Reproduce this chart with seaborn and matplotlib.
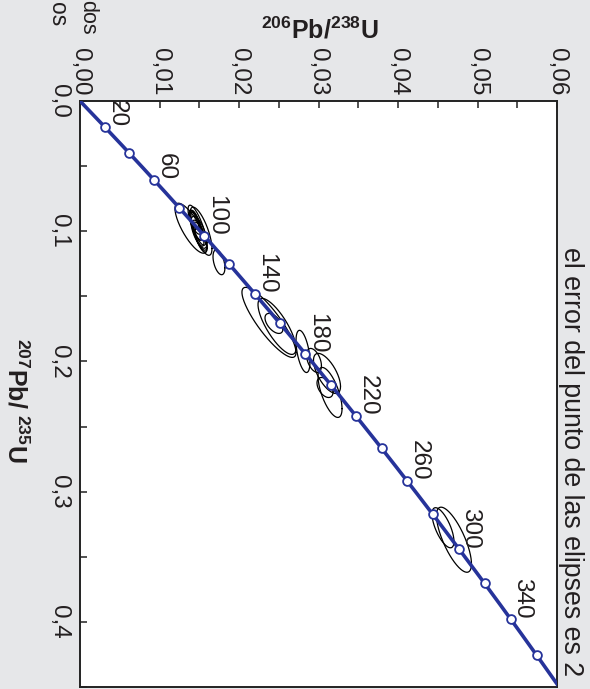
import numpy as np
import pandas as pd
import matplotlib
matplotlib.use("Agg")
import matplotlib.pyplot as plt
from matplotlib.ticker import FuncFormatter, MultipleLocator
import seaborn as sns

# ---------------- data ----------------
# decay constants (1/yr)
LAMBDA_238 = 1.55125e-10
LAMBDA_235 = 9.8485e-10

# concordia age marks (Ma) and labelled ages
marker_ages = [20, 40, 60, 80, 100, 120, 140, 160, 180, 200, 220, 240,
               260, 280, 300, 320, 340, 360]
label_ages = [20, 60, 100, 140, 180, 220, 260, 300, 340]

# analyses: 206Pb/238U, 2s; 207Pb/235U, 2s; error correlation
r68 = [0.01396, 0.01522, 0.01447, 0.01472, 0.01497, 0.01459, 0.01484,
       0.01509, 0.01434, 0.01472, 0.01522, 0.01748,
       0.02377, 0.02478, 0.02440, 0.02805, 0.02943, 0.03107, 0.03145,
       0.03082, 0.04566, 0.04704]
r68_err = [0.00201, 0.00138, 0.00075, 0.00088, 0.00101, 0.00063, 0.00075,
           0.00088, 0.00063, 0.00113, 0.00075, 0.00075,
           0.00340, 0.00239, 0.00113, 0.00088, 0.00094, 0.00170, 0.00151,
           0.00101, 0.00138, 0.00220]
r75 = [0.0977, 0.1000, 0.0931, 0.0977, 0.1008, 0.0962, 0.0992, 0.1038,
       0.0915, 0.0954, 0.1069, 0.1238,
       0.1700, 0.1731, 0.1708, 0.1923, 0.1992, 0.2092, 0.2238, 0.2200,
       0.3277, 0.3369]
r75_err = [0.0192, 0.0185, 0.0092, 0.0138, 0.0123, 0.0108, 0.0077, 0.0108,
           0.0069, 0.0154, 0.0092, 0.0096,
           0.0269, 0.0215, 0.0077, 0.0162, 0.0092, 0.0154, 0.0192, 0.0077,
           0.0154, 0.0250]
rho = [0.78, 0.72, 0.70, 0.75, 0.65, 0.80, 0.60, 0.70, 0.60, 0.78, 0.70,
       0.45, 0.86, 0.78, 0.55, 0.50, 0.45, 0.65, 0.65, 0.45, 0.68, 0.74]

x_ticks = [0.00, 0.01, 0.02, 0.03, 0.04, 0.05, 0.06]
y_ticks = [0.0, 0.1, 0.2, 0.3, 0.4]

x_label = r'$\mathbf{^{206}Pb/^{238}U}$'
y_label = r'$\mathbf{^{207}Pb/\ ^{235}U}$'
note_text = 'el error del punto de las elipses es 2'
cut_texts = ['os', 'dos']


def conc_68(t_ma):
    return np.exp(LAMBDA_238 * np.asarray(t_ma, float) * 1e6) - 1


def conc_75(t_ma):
    return np.exp(LAMBDA_235 * np.asarray(t_ma, float) * 1e6) - 1


# ---------------- style ----------------
sns.set_style("white")
plt.rcParams['font.family'] = ['Liberation Sans', 'DejaVu Sans']
plt.rcParams['mathtext.fontset'] = 'custom'
plt.rcParams['mathtext.rm'] = 'Liberation Sans'
plt.rcParams['mathtext.bf'] = 'Liberation Sans:bold'
plt.rcParams['mathtext.it'] = 'Liberation Sans:italic'

BG = '#e6e7e9'
BLUE = '#26339a'
TXT = '#231f20'

fig = plt.figure(figsize=(5.9, 6.89), dpi=100, facecolor=BG)
ax = fig.add_axes([80 / 590, 1 - 687 / 689, (557 - 80) / 590, (687 - 101) / 689])
ax.set_facecolor('white')

# concordia curve
t_curve = np.linspace(0, 400, 801)
curve = pd.DataFrame({'r68': conc_68(t_curve), 'r75': conc_75(t_curve)})
sns.lineplot(data=curve, x='r68', y='r75', sort=False, color=BLUE,
             linewidth=2.6, ax=ax, zorder=3)

# error ellipses
theta = np.linspace(0, 2 * np.pi, 200)
for cx, sx, cy, sy, r in zip(r68, r68_err, r75, r75_err, rho):
    ex = cx + sx * np.cos(theta)
    ey = cy + sy * (r * np.cos(theta) + np.sqrt(1 - r ** 2) * np.sin(theta))
    ax.plot(ex, ey, color='black', linewidth=0.9, zorder=2)

# age markers
marks = pd.DataFrame({'r68': conc_68(marker_ages), 'r75': conc_75(marker_ages)})
sns.scatterplot(data=marks, x='r68', y='r75', s=40, color='white',
                edgecolor=BLUE, linewidth=1.3, ax=ax, zorder=4)

for a in label_ages:
    ax.annotate(str(a), (float(conc_68(a)), float(conc_75(a))),
                xytext=(0.5, 0), textcoords='offset points',
                rotation=-90, ha='left', va='bottom', fontsize=17.5,
                color=TXT, zorder=5)

ax.set_xlim(0, 0.06)
ax.set_ylim(0.45, 0)
ax.set_xlabel('')
ax.set_ylabel('')

ax.xaxis.set_major_locator(MultipleLocator(0.01))
ax.xaxis.set_minor_locator(MultipleLocator(0.005))
ax.yaxis.set_major_locator(MultipleLocator(0.1))
ax.yaxis.set_minor_locator(MultipleLocator(0.05))
ax.set_xticks(x_ticks)
ax.set_yticks(y_ticks)
ax.xaxis.set_major_formatter(FuncFormatter(lambda v, p: f"{v:.2f}".replace('.', ',')))
ax.yaxis.set_major_formatter(FuncFormatter(lambda v, p: f"{v:.1f}".replace('.', ',')))

ax.tick_params(axis='x', which='both', direction='in', top=True, bottom=False,
               labeltop=True, labelbottom=False, length=5, width=1.1,
               color='#222222')
ax.tick_params(axis='x', which='major', labelsize=17.5, labelrotation=-90,
               pad=4, labelcolor=TXT)
ax.tick_params(axis='y', which='both', direction='in', left=True, right=False,
               length=5, width=1.1, color='#222222')
ax.tick_params(axis='y', which='major', labelsize=17.5, labelrotation=-90,
               pad=7, labelcolor=TXT)
for lab in ax.get_yticklabels():
    lab.set_va('center')

for sp in ax.spines.values():
    sp.set_visible(True)
    sp.set_color('#222222')
    sp.set_linewidth(1.4)

# axis titles and annotations
fig.text(320 / 590, 1 - 30 / 689, x_label, ha='center', va='center',
         fontsize=18, color=TXT)
fig.text(16 / 590, 1 - 400 / 689, y_label, ha='center', va='center',
         rotation=-90, fontsize=18, color=TXT)
fig.text(571 / 590, 1 - 462 / 689, note_text, ha='center', va='center',
         rotation=-90, fontsize=19.3, color=TXT)
fig.text(57 / 590, 1 - 26 / 689, cut_texts[0], ha='center', va='bottom',
         rotation=-90, fontsize=16.5, color=TXT)
fig.text(88 / 590, 1 - 35 / 689, cut_texts[1], ha='center', va='bottom',
         rotation=-90, fontsize=15.5, color=TXT)

fig.savefig('out.png', dpi=100, facecolor=BG)
